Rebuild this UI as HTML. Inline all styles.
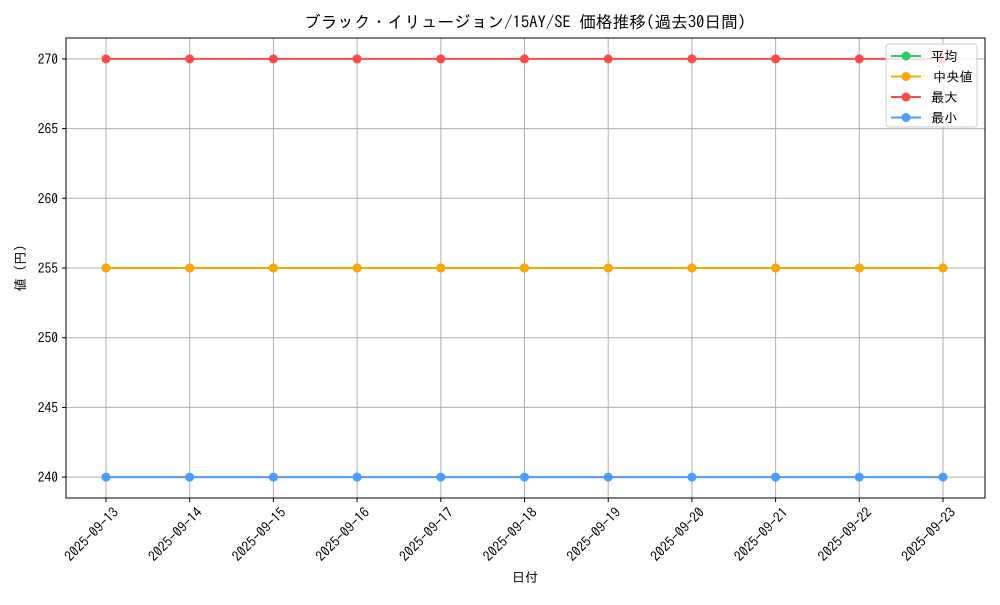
<!DOCTYPE html>
<html><head><meta charset="utf-8"><style>
body{margin:0;background:#fff}
svg text{font-family:"IPAGothic","Liberation Sans","Noto Sans CJK JP",sans-serif;fill:#000}
</style></head><body>
<svg id="chart" width="1000" height="600" xmlns="http://www.w3.org/2000/svg">
<rect width="1000" height="600" fill="#fff"/>
<text x="525" y="28" font-size="16.7" text-anchor="middle">ブラック・イリュージョン/15AY/SE 価格推移(過去30日間)</text>
<g id="grid"></g>
<g id="series"></g>
<rect x="66" y="38" width="919" height="460" fill="none" stroke="#000" stroke-width="1"/>
<g id="axes"></g>
<text x="525" y="582" font-size="13.3" text-anchor="middle">日付</text>
<text transform="translate(25,268) rotate(-90)" font-size="13.3" text-anchor="middle">値 (円)</text>
<g id="legend"></g>
</svg>
<script>
const dates=["2025-09-13","2025-09-14","2025-09-15","2025-09-16","2025-09-17","2025-09-18","2025-09-19","2025-09-20","2025-09-21","2025-09-22","2025-09-23"];
const meanVals=[255,255,255,255,255,255,255,255,255,255,255];
const medianVals=[255,255,255,255,255,255,255,255,255,255,255];
const maxVals=[270,270,270,270,270,270,270,270,270,270,270];
const minVals=[240,240,240,240,240,240,240,240,240,240,240];
const yTicks=[240,245,250,255,260,265,270];
const seriesNames=["平均","中央値","最大","最小"];

const NS="http://www.w3.org/2000/svg";
const L=66,R=985,T=38,B=498,yMin=238.5,yMax=271.5;
const xs=i=>106+i*(943-106)/(dates.length-1);
const ys=v=>B-(v-yMin)/(yMax-yMin)*(B-T);
function mk(tag,attrs,parent){const e=document.createElementNS(NS,tag);for(const k in attrs)e.setAttribute(k,attrs[k]);parent.appendChild(e);return e;}
const grid=document.getElementById('grid'),axes=document.getElementById('axes'),ser=document.getElementById('series'),leg=document.getElementById('legend');
dates.forEach((d,i)=>{
 const x=xs(i);
 const g=mk('line',{x1:x,x2:x,y1:T,y2:B,stroke:'#b0b0b0','stroke-width':1},grid);
 
 
 const t=mk('line',{x1:x,x2:x,y1:B,y2:B+4,stroke:'#000'},axes);
 
 
 const lb=mk('text',{transform:`translate(${x+6},${B+8}) rotate(-45)`,'text-anchor':'end','font-size':13.8,dy:'0.75em'},axes);
 lb.textContent=d;
 
 
});
yTicks.forEach(v=>{
 const y=ys(v);
 const g=mk('line',{x1:L,x2:R,y1:y,y2:y,stroke:'#b0b0b0','stroke-width':1},grid);
 
 
 const t=mk('line',{x1:L-4,x2:L,y1:y,y2:y,stroke:'#000'},axes);
 
 
 const lb=mk('text',{x:L-8,y:y+5,'text-anchor':'end','font-size':13.5},axes);
 lb.textContent=v;
 
 
});
const all=[[meanVals,'#2ecc71'],[medianVals,'#ffa500'],[maxVals,'#ff4a4a'],[minVals,'#4a9cff']];
all.forEach(([vals,c],k)=>{
 const pl=mk('polyline',{points:vals.map((v,i)=>xs(i)+','+ys(v)).join(' '),fill:'none',stroke:c,'stroke-width':2},ser);
 
 
 vals.forEach((v,i)=>{
  const p=mk('circle',{cx:xs(i),cy:ys(v),r:4.5,fill:c},ser);
  
  
 });
});
mk('rect',{x:886,y:44,width:91,height:83,rx:3,fill:'#fff','fill-opacity':0.8,stroke:'#ccc'},leg);
all.forEach(([vals,c],k)=>{
 const y=56+k*20.5;
 const e=mk('g',{},leg);
 
 
 mk('line',{x1:891,x2:921,y1:y,y2:y,stroke:c,'stroke-width':2},e);
 mk('circle',{cx:906,cy:y,r:4.5,fill:c},e);
 const t=mk('text',{x:k==1?933:931,y:y+5,'font-size':13.3},e);
 t.textContent=seriesNames[k];
});
</script>
</body></html>
